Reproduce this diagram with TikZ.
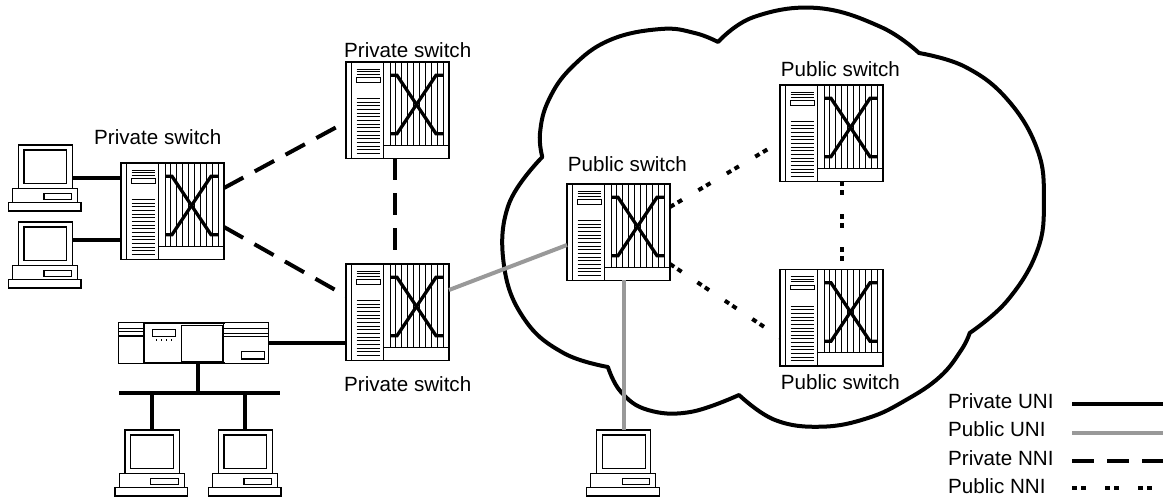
\documentclass[tikz,border=0pt]{standalone}
\usepackage{fontspec}
\setmainfont{Liberation Sans}
\definecolor{uniGray}{gray}{0.6}
\begin{document}
\begin{tikzpicture}[x=1pt,y=-1pt,
  thinline/.style={line width=1.1pt},
  hair/.style={line width=0.9pt},
  lbl/.style={inner sep=0pt, font=\fontsize{20.6}{24}\selectfont, anchor=base west},
  privuni/.style={line width=4pt, black},
  pubuni/.style={line width=4pt, uniGray},
  privnni/.style={line width=4pt, dash pattern=on 22pt off 13pt},
  pubnni/.style={line width=4pt, dash pattern=on 5pt off 4pt on 5pt off 19pt},
  pics/switch/.style={code={
    \node[draw, thinline, fill=white, minimum width=103pt, minimum height=96.5pt,
          inner sep=0pt, outer sep=0pt, anchor=north west] (-box) at (0,0) {};
    \draw[thinline] (5.8,0) -- (5.8,96.5) (37.5,0) -- (37.5,96.5);
    \foreach \y in {7,9.6,12.2} \draw[hair] (10.5,\y) -- (34,\y);
    \draw[hair] (10.5,15.6) rectangle (34,20.2);
    \foreach \i in {0,...,15} \draw[hair] (10.5,36.6+3.65*\i) -- (34,36.6+3.65*\i);
    \foreach \i in {0,...,9} \draw[hair] (44+5.9*\i,0) -- (44+5.9*\i,83.2);
    \draw[thinline] (37.5,83.2) -- (103,83.2);
    \draw[line width=3.3pt] (44,13.3) -- (51,13.3) -- (90,71.7) -- (97.5,71.7);
    \draw[line width=3.3pt] (44,71.7) -- (51,71.7) -- (90,13.3) -- (97.5,13.3);
  }},
  pics/computer/.style={code={
    \node[draw, thinline, fill=white, minimum width=54.3pt, minimum height=43.3pt,
          inner sep=0pt, outer sep=0pt, anchor=north west] (-mon) at (0,0) {};
    \draw[thinline] (5.7,5) rectangle (48.6,38.3);
    \draw[thinline] (-5.7,43.3) rectangle (59.3,57.7);
    \draw[thinline] (25.7,48.3) rectangle (53.3,54.3);
    \draw[thinline] (-10,57.7) rectangle (62.7,66);
  }}
]
\useasboundingbox (0,0) rectangle (1163,497);

% the public network cloud
\draw[line width=4pt, line join=round, fill=white]
  plot[smooth, tension=0.7] coordinates {(542.3,157) (540,133) (548.7,100) (572,67) (610,40) (660.8,29) (694.7,33) (718,42)}
  -- plot[smooth, tension=0.7] coordinates {(718,42) (753.9,17) (817.4,8) (880.9,27) (919,53)}
  -- plot[smooth, tension=0.7] coordinates {(919,53) (965.5,67) (1007.8,100) (1037.5,150) (1043.8,200) (1037.5,250) (1007.8,300) (969.7,333)}
  -- plot[smooth, tension=0.7] coordinates {(969.7,333) (961.3,350) (940,376.7) (906,400) (868,418) (821.6,426.7) (775,420) (739,395)}
  -- plot[smooth, tension=0.7] coordinates {(739,395) (690.4,412) (648,410) (621,392) (607.9,367)}
  -- plot[smooth, tension=0.7] coordinates {(607.9,367) (563.5,353) (525,320) (504.2,267) (508.5,205) (542.3,157)}
  -- cycle;

% switches
\pic (sA) at (121,163) {switch};
\pic (sB) at (346,62) {switch};
\pic (sC) at (346,264) {switch};
\pic (sD) at (567,184) {switch};
\pic (sE) at (780,85) {switch};
\pic (sF) at (780,269.5) {switch};

% end stations
\pic (c1) at (18.3,145) {computer};
\pic (c2) at (18.3,222) {computer};
\pic (cA) at (125,430) {computer};
\pic (cB) at (218.3,430) {computer};
\pic (cP) at (596.5,430) {computer};

% router
\node[draw, thinline, minimum width=150pt, minimum height=40.6pt, inner sep=0pt,
      outer sep=0pt, anchor=north west] (rt) at (118.3,322.7) {};
\foreach \y in {328.3,331.7,336} \draw[thinline] (118.3,\y) -- (144.3,\y);
\draw[line width=1.8pt] (144.3,322.7) -- (144.3,363.3) (144.3,322.7) -- (225,322.7) (144.3,363.3) -- (225,363.3);
\draw[thinline] (152.3,329.3) rectangle (175.7,336.7);
\foreach \x in {156.7,161.7,166.7,171.7} \draw[line width=1pt] (\x,339.5) -- (\x,341.5);
\draw[thinline] (181.7,325.7) rectangle (222.3,361.7);
\draw[thinline] (223.3,322.7) -- (223.3,363.3);
\foreach \y in {328.3,333.3,336.7} \draw[thinline] (223.3,\y) -- (268.3,\y);
\draw[thinline] (241.7,351.7) rectangle (264.3,359);

% LAN segment behind the router
\coordinate (busL) at (119.3,392.7);
\coordinate (busR) at (280,392.7);
\draw[privuni] (busL) -- (busR);
\draw[privuni] ([xshift=5pt]rt.south) -- ([xshift=5pt]rt.south |- busL);
\draw[privuni] (cA-mon.north |- busL) -- (cA-mon.north);
\draw[privuni] (cB-mon.north |- busL) -- (cB-mon.north);

% private UNI links
\coordinate (q1) at ([yshift=-33pt]c1-mon.north east);
\coordinate (q2) at ([yshift=-18pt]c2-mon.north east);
\draw[privuni] (q1) -- (q1 -| sA-box.west);
\draw[privuni] (q2) -- (q2 -| sA-box.west);
\draw[privuni] (rt.east) -- (rt.east -| sC-box.west);

% private NNI links
\draw[privnni] ([yshift=-25pt]sA-box.north east) -- ([yshift=-60pt]sB-box.north west);
\draw[privnni] ([yshift=-64pt]sA-box.north east) -- ([yshift=-32pt]sC-box.north west);
\draw[privnni] ([xshift=49pt]sB-box.south west) -- ([xshift=49pt]sC-box.north west);

% public UNI links
\draw[pubuni] ([yshift=-26pt]sC-box.north east) -- ([yshift=-61pt]sD-box.north west);
\draw[pubuni] (cP-mon.north |- sD-box.south) -- (cP-mon.north);

% public NNI links
\draw[pubnni] ([yshift=-23pt]sD-box.north east) -- ([yshift=-57pt]sE-box.north west);
\draw[pubnni] ([yshift=-80pt]sD-box.north east) -- ([yshift=-68pt]sF-box.north west);
\draw[pubnni] ([xshift=62pt]sE-box.south west) -- ([xshift=62pt]sF-box.north west);

% labels
\node[lbl] (tA) at (94,145) {Private switch};
\node[lbl] (tB) at (344,58) {Private switch};
\node[lbl] (tC) at (344,391) {Private switch};
\node[lbl] (tD) at (567.7,172) {Public switch};
\node[lbl] (tE) at (780.7,77) {Public switch};
\node[lbl] (tF) at (780.7,389) {Public switch};

% legend
\node[lbl] (lg1) at (948,408) {Private UNI};
\node[lbl] (lg2) at (948,436.7) {Public UNI};
\node[lbl] (lg3) at (948,465) {Private NNI};
\node[lbl] (lg4) at (948,493) {Public NNI};
\coordinate (k1a) at (1072,404); \coordinate (k1b) at (1163,404);
\coordinate (k2a) at (1072,433); \coordinate (k2b) at (1163,433);
\coordinate (k3a) at (1072,461); \coordinate (k3b) at (1163,461);
\coordinate (k4a) at (1072,488); \coordinate (k4b) at (1163,488);
\draw[privuni] (k1a) -- (k1b);
\draw[pubuni] (k2a) -- (k2b);
\draw[privnni] (k3a) -- (k3b);
\draw[pubnni] (k4a) -- (k4b);
\end{tikzpicture}
\end{document}
